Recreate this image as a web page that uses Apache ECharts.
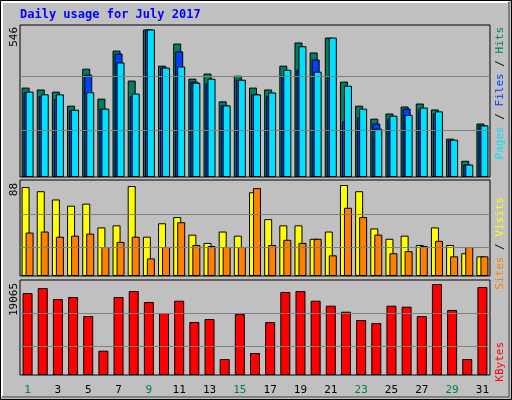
<!DOCTYPE html>
<html><head><meta charset="utf-8">
<script src="https://cdn.jsdelivr.net/npm/echarts@6/dist/echarts.min.js"></script>
<style>html,body{margin:0;padding:0;background:#c0c0c0}#c{width:512px;height:400px}</style>
</head><body><div id="c"></div>
<script>
const days = ['1','2','3','4','5','6','7','8','9','10','11','12','13','14','15','16','17','18','19','20','21','22','23','24','25','26','27','28','29','30','31'];
const weekend = [1,2,8,9,15,16,22,23,29,30];
const hits = [331,324,316,264,401,290,468,357,546,412,494,364,383,280,375,331,324,412,498,461,516,353,264,216,235,261,272,250,142,60,198];
const files = [314,299,288,247,379,253,457,299,546,405,465,353,346,265,360,306,299,375,397,435,375,205,220,198,216,253,250,235,136,46,191];
const pages = [316,306,306,249,314,253,424,309,546,405,409,349,364,265,360,306,313,397,484,390,516,338,253,179,227,230,257,243,138,46,191];
const visits = [86,82,74,68,70,47,49,87,38,51,57,40,32,43,39,81,55,49,49,36,43,88,82,46,36,39,30,47,30,22,19];
const sites = [42,43,38,39,41,28,33,38,17,28,52,30,29,28,28,85,30,35,32,36,20,66,57,40,22,24,29,34,19,28,19];
const kbytes = [17171,18218,15914,16333,12355,5096,16333,17590,15286,12983,15565,11099,11727,3350,12774,4607,11099,17381,17590,15565,14518,13262,11518,10890,14518,14309,12355,19065,13611,3350,18427];
const axisMax = ['546','88','19065'];

const font = 'DejaVu Sans Mono';
const grids = [
  {left:20,right:22,top:25,height:152},
  {left:20,right:22,top:180,height:96},
  {left:20,right:22,top:280,height:95}
].map(g=>Object.assign(g,{show:true,borderColor:'#000',borderWidth:1,backgroundColor:'transparent'}));
const maxes=[546*152/147.5, 88*96/91, 19065*95/91];
const xAxes=[0,1,2].map(i=>({gridIndex:i,type:'category',data:days,
  axisLine:{show:false},axisTick:{show:false},
  axisLabel:{show:i===2,fontFamily:font,fontSize:11,margin:10,
    color:(v)=>weekend.includes(+v)?'#008040':'#000'}}));
const yAxes=[0,1,2].map(i=>({gridIndex:i,type:'value',min:0,max:maxes[i],
  axisLine:{show:false},axisTick:{show:false},axisLabel:{show:false},splitLine:{show:false}}));
function gl(i,M){return {silent:true,symbol:'none',label:{show:false},lineStyle:{color:'#808080',type:'solid',width:1},
  data:[{yAxis:M*0.32},{yAxis:M*0.68}]};}
const bs={borderColor:'#000',borderWidth:1};
const series=[
  {type:'bar',xAxisIndex:0,yAxisIndex:0,data:hits,barWidth:8,barGap:'-75%',itemStyle:Object.assign({color:'#008060'},bs),markLine:gl(0,546),animation:false},
  {type:'bar',xAxisIndex:0,yAxisIndex:0,data:files,barWidth:8,barGap:'-75%',itemStyle:Object.assign({color:'#0040ff'},bs),animation:false},
  {type:'bar',xAxisIndex:0,yAxisIndex:0,data:pages,barWidth:8,barGap:'-75%',itemStyle:Object.assign({color:'#00e0ff'},bs),animation:false},
  {type:'bar',xAxisIndex:1,yAxisIndex:1,data:visits,barWidth:8,barGap:'-50%',itemStyle:Object.assign({color:'#ffff00'},bs),markLine:gl(1,88),animation:false},
  {type:'bar',xAxisIndex:1,yAxisIndex:1,data:sites,barWidth:8,barGap:'-50%',itemStyle:Object.assign({color:'#ff8000'},bs),animation:false},
  {type:'bar',xAxisIndex:2,yAxisIndex:2,data:kbytes,barWidth:10,itemStyle:Object.assign({color:'#ff0000'},bs),markLine:gl(2,19065),animation:false}
];
function vtext(x,y,rich,text){return {type:'text',x:x,y:y,rotation:Math.PI/2,
  style:{text:text,rich:rich,font:'11px '+font,align:'right',verticalAlign:'middle',fill:'#000'}};}
const graphic=[
  {type:'rect',shape:{x:0.5,y:0.5,width:511,height:399},style:{fill:'none',stroke:'#000',lineWidth:1},z:-1},
  {type:'polyline',shape:{points:[[2,397],[2,2],[509,2]]},style:{stroke:'#fff',lineWidth:2,fill:'none'},z:-1},
  {type:'polyline',shape:{points:[[509,2],[509,397],[2,397]]},style:{stroke:'#808080',lineWidth:2,fill:'none'},z:-1},
  {type:'text',x:20,y:9,style:{text:'Daily usage for July 2017',font:'bold 12px '+font,fill:'#0000ff'}},
  vtext(14,27,{},axisMax[0]),
  vtext(14,183,{},axisMax[1]),
  vtext(14,283,{},axisMax[2]),
  vtext(500,27,{p:{fill:'#00e0ff',font:'11px '+font},f:{fill:'#0040ff',font:'11px '+font},h:{fill:'#008060',font:'11px '+font},s:{fill:'#000',font:'11px '+font}},
    '{p|Pages}{s| / }{f|Files}{s| / }{h|Hits}'),
  vtext(500,197,{a:{fill:'#ff8000',font:'11px '+font},b:{fill:'#ffff00',font:'11px '+font},s:{fill:'#000',font:'11px '+font}},
    '{a|Sites}{s| / }{b|Visits}'),
  vtext(500,342,{k:{fill:'#ff0000',font:'11px '+font}},'{k|KBytes}')
];
const chart=echarts.init(document.getElementById('c'));
chart.setOption({backgroundColor:'#c0c0c0',animation:false,grid:grids,xAxis:xAxes,yAxis:yAxes,series:series,graphic:graphic});
</script></body></html>
